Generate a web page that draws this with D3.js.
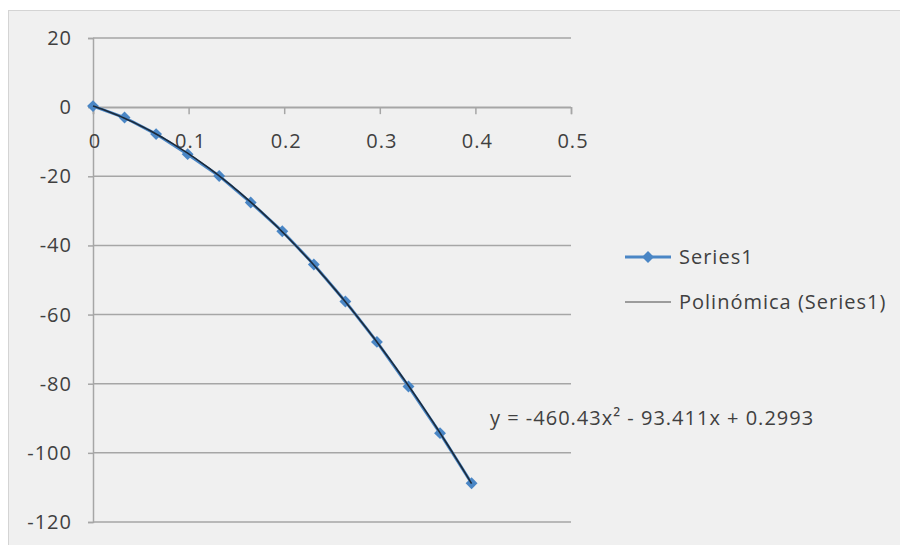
<!DOCTYPE html>
<html>
<head>
<meta charset="utf-8">
<script src="https://cdn.jsdelivr.net/npm/d3@7"></script>
<style>
  body { margin: 0; background: #fff; }
  text { font-family: "Open Sans", sans-serif; fill: #404040; letter-spacing: 1px; }
</style>
</head>
<body>
<script>
var w = 900;
var h = 545;

// Series1 values
var xValues = [0, 0.033, 0.066, 0.099, 0.132, 0.165, 0.198, 0.231, 0.264, 0.297, 0.33, 0.363, 0.396];
var yValues = [0.3, -3.0, -7.8, -13.6, -19.9, -27.6, -35.9, -45.5, -56.2, -67.9, -80.8, -94.3, -108.8];
var xTicks = [0, 0.1, 0.2, 0.3, 0.4, 0.5];
var yTicks = [20, 0, -20, -40, -60, -80, -100, -120];
var legendLabels = ['Series1', 'Polinómica (Series1)'];
var equationText = 'y = -460.43x\u00b2 - 93.411x + 0.2993';

var data = xValues.map(function(x, i){ return {x: x, y: yValues[i]}; });

// least squares quadratic, like the spreadsheet trendline
var fitQuadratic = function(pts){
  var s = [0, 0, 0, 0, 0], t = [0, 0, 0];
  pts.forEach(function(p){
    var xp = 1;
    for (var k = 0; k < 5; k++) { s[k] += xp; if (k < 3) t[k] += xp * p.y; xp *= p.x; }
  });
  var m = [[s[0], s[1], s[2], t[0]], [s[1], s[2], s[3], t[1]], [s[2], s[3], s[4], t[2]]];
  for (var i = 0; i < 3; i++) {
    for (var j = i + 1; j < 3; j++) {
      var f = m[j][i] / m[i][i];
      for (var k = i; k < 4; k++) m[j][k] -= f * m[i][k];
    }
  }
  var c = [0, 0, 0];
  for (var i = 2; i >= 0; i--) {
    var v = m[i][3];
    for (var k = i + 1; k < 3; k++) v -= m[i][k] * c[k];
    c[i] = v / m[i][i];
  }
  return c; // c0 + c1 x + c2 x^2
};
var coef = fitQuadratic(data);

var svg = d3.select('body').append('svg')
    .attr('width', w)
    .attr('height', h);

svg.append('rect')
    .attr('x', 8.5).attr('y', 10.5)
    .attr('width', w).attr('height', h)
    .attr('fill', '#f0f0f0')
    .attr('stroke', '#d4d4d4');

var x = d3.scaleLinear().domain([0, 0.5]).range([93, 571]);
var y = d3.scaleLinear().domain([-120, 20]).range([522, 38]);

// gridlines
svg.append('g')
    .attr('transform', 'translate(93,0)')
    .call(d3.axisLeft(y).tickValues(yTicks).tickSize(5).tickFormat(''))
    .call(function(g){ g.select('.domain').attr('stroke', '#a6a6a6').attr('stroke-width', 1.5); })
    .call(function(g){ g.selectAll('.tick line').attr('stroke', '#a6a6a6').attr('stroke-width', 1.5); });

svg.append('g').selectAll('line').data(yTicks).enter().append('line')
    .attr('x1', 93).attr('x2', 571)
    .attr('y1', function(d){ return y(d); })
    .attr('y2', function(d){ return y(d); })
    .attr('stroke', '#a6a6a6')
    .attr('stroke-width', 1.5);

svg.append('g').selectAll('text').data(yTicks).enter().append('text')
    .attr('x', 72)
    .attr('y', function(d){ return y(d); })
    .attr('dy', '0.35em')
    .attr('text-anchor', 'end')
    .attr('font-size', 20)
    .text(function(d){ return d; });

// x axis at y = 0
svg.append('g')
    .attr('transform', 'translate(0,' + y(0) + ')')
    .call(d3.axisBottom(x).tickValues(xTicks).tickSize(7).tickFormat(''))
    .call(function(g){ g.select('.domain').attr('stroke', '#a6a6a6').attr('stroke-width', 1.5); })
    .call(function(g){ g.selectAll('.tick line').attr('stroke', '#a6a6a6').attr('stroke-width', 1.5); });

svg.append('g').selectAll('text').data(xTicks).enter().append('text')
    .attr('x', function(d){ return x(d) + 2; })
    .attr('y', y(0) + 41)
    .attr('text-anchor', 'middle')
    .attr('font-size', 20)
    .text(function(d){ return d; });

// series
var line = d3.line()
    .x(function(d){ return x(d.x); })
    .y(function(d){ return y(d.y); });

svg.append('path')
    .datum(data)
    .attr('d', line)
    .attr('fill', 'none')
    .attr('stroke', '#4a86c5')
    .attr('stroke-width', 3);

var diamond = d3.symbol().type(d3.symbolDiamond2).size(90);

svg.append('g').selectAll('path').data(data).enter().append('path')
    .attr('d', diamond)
    .attr('transform', function(d){ return 'translate(' + x(d.x) + ',' + y(d.y) + ')'; })
    .attr('fill', '#4a86c5');

// trendline sampled over the data range
var trendX = d3.range(0, 121).map(function(i){ return xValues[xValues.length - 1] * i / 120; });
var trend = trendX.map(function(t){ return {x: t, y: coef[0] + coef[1] * t + coef[2] * t * t}; });

svg.append('path')
    .datum(trend)
    .attr('d', line)
    .attr('fill', 'none')
    .attr('stroke', '#1c2a3a')
    .attr('stroke-width', 1.6);

svg.append('text')
    .attr('x', 490)
    .attr('y', 418)
    .attr('dy', '0.35em')
    .attr('font-size', 20)
    .text(equationText);

// legend
var legend = svg.append('g');
legend.append('line')
    .attr('x1', 625).attr('x2', 671).attr('y1', 257).attr('y2', 257)
    .attr('stroke', '#4a86c5').attr('stroke-width', 3);
legend.append('path')
    .attr('d', diamond)
    .attr('transform', 'translate(648,257)')
    .attr('fill', '#4a86c5');
legend.append('line')
    .attr('x1', 625).attr('x2', 671).attr('y1', 302).attr('y2', 302)
    .attr('stroke', '#808080').attr('stroke-width', 1.5);
legend.selectAll('text').data(legendLabels).enter().append('text')
    .attr('x', 679)
    .attr('y', function(d, i){ return 257 + i * 45; })
    .attr('dy', '0.35em')
    .attr('font-size', 20)
    .text(function(d){ return d; });
</script>
</body>
</html>
